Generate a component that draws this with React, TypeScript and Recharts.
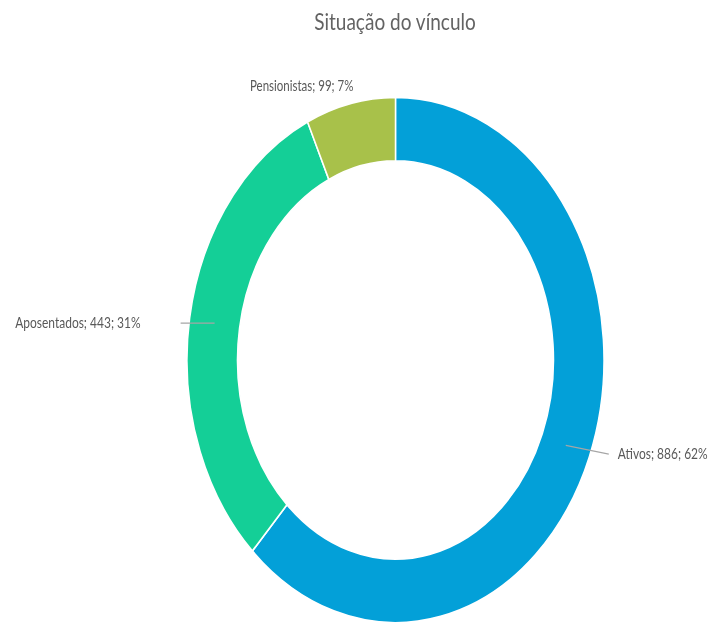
import { Cell, Pie, PieChart } from "recharts"

const categories = ["Ativos", "Aposentados", "Pensionistas"]
const values = [886, 443, 99]
const colors = ["#03A0D8", "#14CF97", "#A8C14A"]

const data = categories.map((name, i) => ({ name, value: values[i] }))

const RADIAN = Math.PI / 180
const STRETCH = 1.26
const labelFont = "Lato, 'Open Sans', sans-serif"

function renderLabel(props: any) {
    const { cx, cy, midAngle, innerRadius, outerRadius, index, name, value, percent } = props
    const text = `${name}; ${value}; ${Math.round(percent * 100)}%`
    const cos = Math.cos(-midAngle * RADIAN)
    const sin = Math.sin(-midAngle * RADIAN)
    const midR = (innerRadius + outerRadius) / 2

    if (index === 2) {
        // small slice: text sits just above the ring, no leader line
        const x = cx + outerRadius * cos + 3
        const y = cy + outerRadius * sin - 10
        return (
            <text x={x} y={y} textAnchor="end" fill="#595959" fontSize={11.5} fontFamily={labelFont}>
                {text}
            </text>
        )
    }

    const sx = cx + midR * cos
    const sy = cy + midR * sin
    const right = cos >= 0
    // leader line: short slant on the right, flat on the left
    const ex = right ? sx + 43 : sx - 34
    const ey = right ? sy + 7 : sy
    const tx = right ? ex + 9 : ex - 40
    return (
        <g>
            <path d={`M${sx},${sy}L${ex},${ey}`} stroke="#A6A6A6" strokeWidth={1} fill="none" />
            <text
                x={tx}
                y={ey}
                dy={4}
                textAnchor={right ? "start" : "end"}
                fill="#595959"
                fontSize={12}
                fontFamily={labelFont}
            >
                {text}
            </text>
        </g>
    )
}

export default function App() {
    return (
        <div style={{ position: "absolute", left: 0, top: 0, width: 715, height: 625, overflow: "hidden", background: "#fff" }}>
            <div style={{ position: "relative", width: 715, height: 625 / STRETCH, transform: `scaleY(${STRETCH})`, transformOrigin: "0 0" }}>
                <div
                    style={{
                        position: "absolute",
                        left: 0,
                        top: 7,
                        width: 790,
                        textAlign: "center",
                        fontFamily: labelFont,
                        fontSize: 19,
                        lineHeight: "20px",
                        color: "#636363",
                    }}
                >
                    Situação do vínculo
                </div>
                <PieChart width={715} height={625 / STRETCH} margin={{ top: 0, right: 0, bottom: 0, left: 0 }}>
                    <Pie
                        data={data}
                        dataKey="value"
                        nameKey="name"
                        cx={395.5}
                        cy={285.7}
                        innerRadius={158}
                        outerRadius={208.5}
                        startAngle={90}
                        endAngle={-270}
                        stroke="#ffffff"
                        strokeWidth={1.5}
                        label={renderLabel}
                        labelLine={false}
                        isAnimationActive={false}
                    >
                        {data.map((d, i) => (
                            <Cell key={d.name} fill={colors[i]} />
                        ))}
                    </Pie>
                </PieChart>
            </div>
        </div>
    )
}
